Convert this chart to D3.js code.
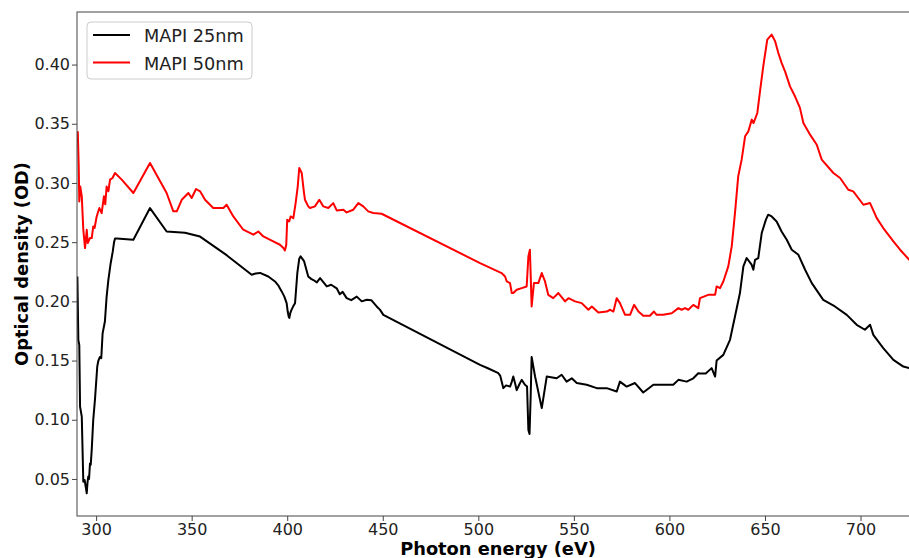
<!DOCTYPE html>
<html>
<head>
<meta charset="utf-8">
<script src="https://cdn.jsdelivr.net/npm/d3@7"></script>
<style>
  body { margin: 0; background: #fff; }
  text { font-family: "DejaVu Sans", sans-serif; }
</style>
</head>
<body>
<script>
// 데이터
var seriesNames = ["MAPI 25nm", "MAPI 50nm"];
var seriesColors = ["#000000", "#ff0000"];

var energy25 = [290.2,290.7,291.2,291.6,292.5,293.3,294.0,294.6,295.1,295.5,295.9,296.3,296.8,297.2,297.7,298.5,299.4,300.6,301.2,302.0,302.7,303.4,304.6,305.5,306.4,307.6,308.7,309.4,309.9,310.8,319.5,328.2,336.9,346.5,354.4,368.3,381.4,383.5,385.8,390.1,393.6,395.5,397.1,398.5,399.7,400.3,400.8,401.1,401.6,402.3,403.2,404.1,405.3,406.3,407.0,408.8,411.0,412.5,413.7,415.5,417.2,420.7,423.0,425.9,427.5,429.0,431.1,433.5,436.4,439.0,441.6,444.0,446.8,448.5,450.3,500.9,505.0,510.5,511.5,513.1,514.5,516.6,517.5,518.3,519.2,520.1,521.5,522.7,524.4,525.5,526.2,526.8,527.4,527.9,529.7,533.2,535.8,541.0,543.6,546.2,548.9,551.5,556.7,562.0,567.2,572.4,574.1,577.6,582.0,586.3,591.6,595.1,602.0,604.7,609.0,612.5,615.1,616.0,619.0,622.1,623.9,624.7,628.2,631.7,634.3,636.9,638.7,640.4,643.0,643.9,644.8,646.5,648.3,650.5,651.7,653.5,656.1,658.7,661.4,664.0,667.5,671.0,674.5,680.5,686.6,692.8,698.0,702.3,705.0,706.7,711.9,717.2,722.4,725.4,728.0];
var od25 = [0.221,0.1675,0.163,0.111,0.1027,0.0477,0.049,0.043,0.0379,0.047,0.052,0.050,0.063,0.062,0.0745,0.100,0.117,0.145,0.150,0.153,0.152,0.173,0.183,0.204,0.218,0.232,0.242,0.250,0.253,0.253,0.252,0.2788,0.259,0.258,0.2547,0.239,0.2225,0.2235,0.224,0.221,0.2168,0.213,0.2084,0.204,0.1985,0.191,0.187,0.186,0.190,0.193,0.196,0.1985,0.224,0.236,0.238,0.234,0.221,0.219,0.218,0.216,0.2197,0.2126,0.214,0.211,0.206,0.208,0.2027,0.201,0.204,0.200,0.2013,0.201,0.1957,0.193,0.1886,0.1464,0.1435,0.1393,0.137,0.1267,0.129,0.128,0.132,0.1365,0.131,0.125,0.130,0.1337,0.1295,0.128,0.0914,0.088,0.120,0.153,0.1365,0.1098,0.1365,0.135,0.138,0.1322,0.135,0.131,0.1295,0.1267,0.1267,0.1238,0.1322,0.128,0.131,0.123,0.1295,0.1295,0.1295,0.1337,0.1322,0.135,0.1393,0.139,0.139,0.1436,0.1365,0.150,0.1548,0.1675,0.1872,0.207,0.2295,0.2366,0.231,0.2267,0.235,0.2366,0.2577,0.269,0.2732,0.2717,0.2675,0.259,0.252,0.2436,0.2393,0.2267,0.2154,0.2013,0.1957,0.1886,0.1802,0.176,0.1802,0.1717,0.1605,0.1506,0.1449,0.1436,0.142];

var energy50 = [290.4,290.9,291.2,291.7,292.5,293.3,294.2,295.1,295.6,296.8,297.7,298.5,299.2,300.3,301.7,302.9,304.1,304.8,305.5,306.4,307.3,308.5,309.9,313.4,319.5,328.2,336.9,340.4,342.2,344.8,348.3,350.0,352.3,354.4,357.0,361.3,366.6,368.3,371.8,377.0,382.3,384.9,387.5,392.7,396.2,398.0,398.8,399.5,400.0,401.0,401.8,403.2,404.4,405.5,406.3,407.6,408.8,409.3,411.0,411.9,414.5,416.8,418.9,421.5,424.1,425.9,429.4,431.1,434.6,437.2,439.8,442.4,445.0,449.4,500.9,512.2,513.1,514.0,514.9,516.6,517.5,518.3,520.1,522.7,525.3,526.2,527.0,527.9,529.1,531.4,533.2,534.9,536.6,539.2,541.9,545.4,547.2,550.6,554.1,557.6,559.4,562.8,567.2,569.0,570.7,572.4,574.1,576.8,579.4,581.5,583.8,586.3,589.8,591.9,593.3,596.8,601.2,604.7,606.4,608.2,609.9,612.5,615.1,616.0,620.3,623.9,624.7,626.5,628.2,630.8,632.6,634.3,636.0,637.8,639.6,641.3,643.1,644.0,646.0,647.4,649.1,651.2,653.5,655.3,657.0,658.7,660.5,663.1,665.7,668.3,670.1,673.6,677.1,679.7,685.8,689.3,693.6,696.2,701.5,705.0,708.5,711.9,717.2,720.7,725.4,728.0];
var od50 = [0.3436,0.314,0.2844,0.297,0.2887,0.2605,0.245,0.2605,0.2493,0.2535,0.2535,0.2633,0.262,0.2717,0.2788,0.2745,0.2887,0.282,0.297,0.293,0.3028,0.304,0.3084,0.3028,0.2915,0.3169,0.2915,0.276,0.276,0.2858,0.2915,0.2873,0.2949,0.2929,0.2858,0.2788,0.2788,0.2816,0.2717,0.2605,0.2563,0.259,0.2548,0.2506,0.2478,0.245,0.243,0.2478,0.269,0.2675,0.2717,0.2703,0.283,0.297,0.3126,0.3084,0.2915,0.2858,0.2802,0.2788,0.2802,0.2858,0.2802,0.2788,0.283,0.2768,0.2774,0.2751,0.2774,0.283,0.2802,0.276,0.2746,0.274,0.2323,0.2239,0.2224,0.221,0.2168,0.2154,0.207,0.207,0.2098,0.2112,0.2126,0.238,0.2436,0.1957,0.2154,0.2154,0.2239,0.2168,0.2055,0.2027,0.207,0.2,0.2027,0.2,0.1985,0.1929,0.1957,0.1906,0.1914,0.1929,0.1914,0.2027,0.1985,0.1886,0.1886,0.197,0.1914,0.1878,0.1878,0.1914,0.1886,0.1886,0.19,0.1943,0.1929,0.1943,0.1929,0.197,0.1943,0.2027,0.2055,0.2055,0.2126,0.2112,0.2168,0.2295,0.2464,0.2746,0.3056,0.3197,0.3394,0.3436,0.3535,0.3506,0.3591,0.3774,0.3985,0.4211,0.4253,0.4197,0.4098,0.4014,0.3943,0.3816,0.3732,0.3634,0.3507,0.3408,0.3323,0.3197,0.3084,0.3042,0.2943,0.2929,0.2816,0.283,0.2703,0.2619,0.2506,0.2436,0.2352,0.231];

var xTicks = [300, 350, 400, 450, 500, 550, 600, 650, 700];
var yTicks = [0.05, 0.10, 0.15, 0.20, 0.25, 0.30, 0.35, 0.40];

var width = 909;
var height = 558;
var plotLeft = 77, plotTop = 12, plotRight = 919, plotBottom = 516; // 오른쪽 축은 그림 밖

var svg = d3.select("body")
            .append("svg")
            .attr("width", width)
            .attr("height", height);

var x = d3.scaleLinear().domain([290, 730.6]).range([plotLeft, plotRight]);
var y = d3.scaleLinear().domain([0.0187, 0.4444]).range([plotBottom, plotTop]);

var series = [
  {name: seriesNames[0], color: seriesColors[0], pts: d3.zip(energy25, od25)},
  {name: seriesNames[1], color: seriesColors[1], pts: d3.zip(energy50, od50)}
];

var line = d3.line()
             .x(function(d) { return x(d[0]); })
             .y(function(d) { return y(d[1]); });

svg.append("clipPath").attr("id", "plotclip")
   .append("rect")
   .attr("x", plotLeft).attr("y", plotTop)
   .attr("width", plotRight - plotLeft).attr("height", plotBottom - plotTop);

svg.append("g")
   .attr("clip-path", "url(#plotclip)")
   .selectAll("path.curve")
   .data(series)
   .enter()
   .append("path")
   .attr("class", "curve")
   .attr("d", function(d) { return line(d.pts); })
   .attr("fill", "none")
   .attr("stroke", function(d) { return d.color; })
   .attr("stroke-width", 2)
   .attr("stroke-linejoin", "round");

// 축
var xAxis = svg.append("g")
   .attr("transform", "translate(0," + plotBottom + ")")
   .call(d3.axisBottom(x).tickValues(xTicks).tickSize(5).tickPadding(3).tickFormat(d3.format("d")));

var yAxis = svg.append("g")
   .attr("transform", "translate(" + plotLeft + ",0)")
   .call(d3.axisLeft(y).tickValues(yTicks).tickSize(5).tickPadding(2).tickFormat(d3.format(".2f")));

[xAxis, yAxis].forEach(function(a) {
  a.select(".domain").remove();
  a.selectAll("line").attr("stroke", "#444");
  a.selectAll("text").attr("fill", "#222").style("font-size", "16px")
   .style("font-family", "'DejaVu Sans', sans-serif");
});

// 테두리
svg.append("rect")
   .attr("x", plotLeft).attr("y", plotTop)
   .attr("width", plotRight - plotLeft).attr("height", plotBottom - plotTop)
   .attr("fill", "none")
   .attr("stroke", "#444")
   .attr("stroke-width", 1);

// 축 제목
svg.append("text")
   .attr("x", (plotLeft + plotRight) / 2)
   .attr("y", 555)
   .attr("text-anchor", "middle")
   .style("font-size", "17.8px")
   .style("font-weight", "bold")
   .text("Photon energy (eV)");

svg.append("text")
   .attr("transform", "translate(28," + (plotTop + plotBottom) / 2 + ") rotate(-90)")
   .attr("text-anchor", "middle")
   .style("font-size", "17.8px")
   .style("font-weight", "bold")
   .text("Optical density (OD)");

// 범례
var legend = svg.append("g");
legend.append("rect")
      .attr("x", 87).attr("y", 22)
      .attr("width", 165).attr("height", 57)
      .attr("rx", 4)
      .attr("fill", "#fff").attr("fill-opacity", 0.8)
      .attr("stroke", "#cccccc");

legend.selectAll("line.key")
      .data(series)
      .enter()
      .append("line")
      .attr("x1", 93).attr("x2", 130)
      .attr("y1", function(d, i) { return 35 + i * 27.5; })
      .attr("y2", function(d, i) { return 35 + i * 27.5; })
      .attr("stroke", function(d) { return d.color; })
      .attr("stroke-width", 2);

legend.selectAll("text.key")
      .data(series)
      .enter()
      .append("text")
      .attr("x", 144)
      .attr("y", function(d, i) { return 42 + i * 27.5; })
      .style("font-size", "17.7px")
      .attr("fill", "#222")
      .text(function(d) { return d.name; });
</script>
</body>
</html>
